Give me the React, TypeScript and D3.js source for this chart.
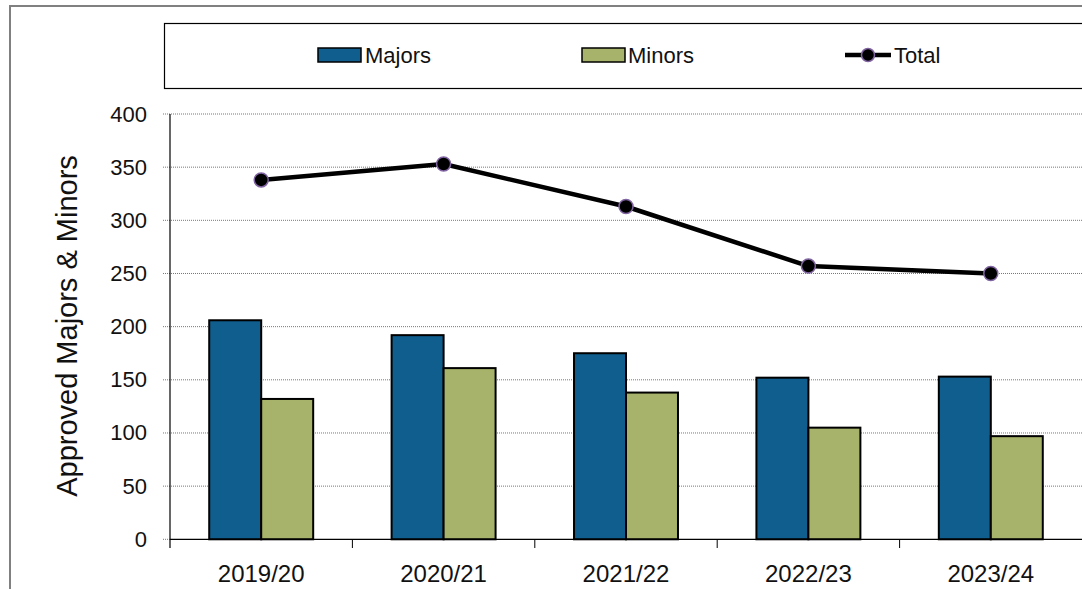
import React from "react";
import * as d3 from "d3";

const years = ["2019/20", "2020/21", "2021/22", "2022/23", "2023/24"];
const majors = [206, 192, 175, 152, 153];
const minors = [132, 161, 138, 105, 97];
const totals = [338, 353, 313, 257, 250];
const yTicks = [0, 50, 100, 150, 200, 250, 300, 350, 400];

const W = 1082;
const H = 589;
const FONT = "'Liberation Sans', Arial, sans-serif";
const MAJOR_COLOR = "#0f5e8e";
const MINOR_COLOR = "#a7b36a";
const MARKER_STROKE = "#8064a2";

const App = () => {
  const plot = { left: 170, right: 1082, top: 114, bottom: 539.3 };

  const x = d3.scaleBand<string>().domain(years).range([plot.left, plot.right]).padding(0);
  const y = d3.scaleLinear().domain([0, 400]).range([plot.bottom, plot.top]);
  const bw = x.bandwidth() * 0.285;
  const cx = (yr: string) => (x(yr) as number) + x.bandwidth() / 2;

  const line = d3
    .line<number>()
    .x((_, i) => cx(years[i]))
    .y((d) => y(d));

  return (
    <svg
      width={W}
      height={H}
      style={{ position: "absolute", left: 0, top: 0, background: "#fff" }}
      fontFamily={FONT}
    >
      {/* outer chart frame */}
      <rect x={10} y={6} width={W + 20} height={H + 20} fill="none" stroke="#808080" strokeWidth={2} />

      {/* legend */}
      <rect x={164.5} y={23.5} width={W} height={65} fill="#fff" stroke="#000" strokeWidth={1.2} />
      <g fontSize={22} fill="#111">
        <rect x={318} y={48} width={43} height={14} fill={MAJOR_COLOR} stroke="#000" strokeWidth={1.5} />
        <text x={365} y={63}>Majors</text>
        <rect x={582} y={48} width={43} height={14} fill={MINOR_COLOR} stroke="#000" strokeWidth={1.5} />
        <text x={628} y={63}>Minors</text>
        <line x1={845} x2={891} y1={55} y2={55} stroke="#000" strokeWidth={4.5} />
        <circle cx={868} cy={55} r={6.5} fill="#000" stroke={MARKER_STROKE} strokeWidth={1.5} />
        <text x={894} y={63}>Total</text>
      </g>

      {/* gridlines and y ticks */}
      <g>
        {yTicks.map((t) => (
          <g key={t}>
            <line
              x1={163}
              x2={t === 0 ? plot.left : plot.right}
              y1={y(t)}
              y2={y(t)}
              stroke="#777"
              strokeWidth={1}
              strokeDasharray="1,1"
            />
            <text
              x={147}
              y={y(t)}
              textAnchor="end"
              dominantBaseline="central"
              fontSize={22}
              fill="#111"
            >
              {t}
            </text>
          </g>
        ))}
      </g>

      {/* y-axis title */}
      <text
        transform={`translate(77, 326) rotate(-90)`}
        textAnchor="middle"
        fontSize={29}
        fill="#111"
      >
        Approved Majors &amp; Minors
      </text>

      {/* bars */}
      <g>
        {years.map((yr, i) => (
          <g key={yr}>
            <rect
              x={cx(yr) - bw}
              y={y(majors[i])}
              width={bw}
              height={y(0) - y(majors[i])}
              fill={MAJOR_COLOR}
              stroke="#000"
              strokeWidth={2}
            />
            <rect
              x={cx(yr)}
              y={y(minors[i])}
              width={bw}
              height={y(0) - y(minors[i])}
              fill={MINOR_COLOR}
              stroke="#000"
              strokeWidth={2}
            />
          </g>
        ))}
      </g>

      {/* axes */}
      <line x1={plot.left} x2={plot.right} y1={y(0)} y2={y(0)} stroke="#000" strokeWidth={1.2} />
      <line x1={plot.left} x2={plot.left} y1={plot.top} y2={548} stroke="#000" strokeWidth={1.2} />
      {years.slice(1).map((yr) => (
        <line key={yr} x1={x(yr)} x2={x(yr)} y1={y(0)} y2={548} stroke="#000" strokeWidth={1} />
      ))}
      {years.map((yr) => (
        <text key={yr} x={cx(yr)} y={582} textAnchor="middle" fontSize={24} fill="#111">
          {yr}
        </text>
      ))}

      {/* total line */}
      <path d={line(totals) || ""} fill="none" stroke="#000" strokeWidth={4.5} strokeLinejoin="round" />
      {totals.map((t, i) => (
        <circle
          key={i}
          cx={cx(years[i])}
          cy={y(t)}
          r={7}
          fill="#000"
          stroke={MARKER_STROKE}
          strokeWidth={1.5}
        />
      ))}
    </svg>
  );
};

export default App;
